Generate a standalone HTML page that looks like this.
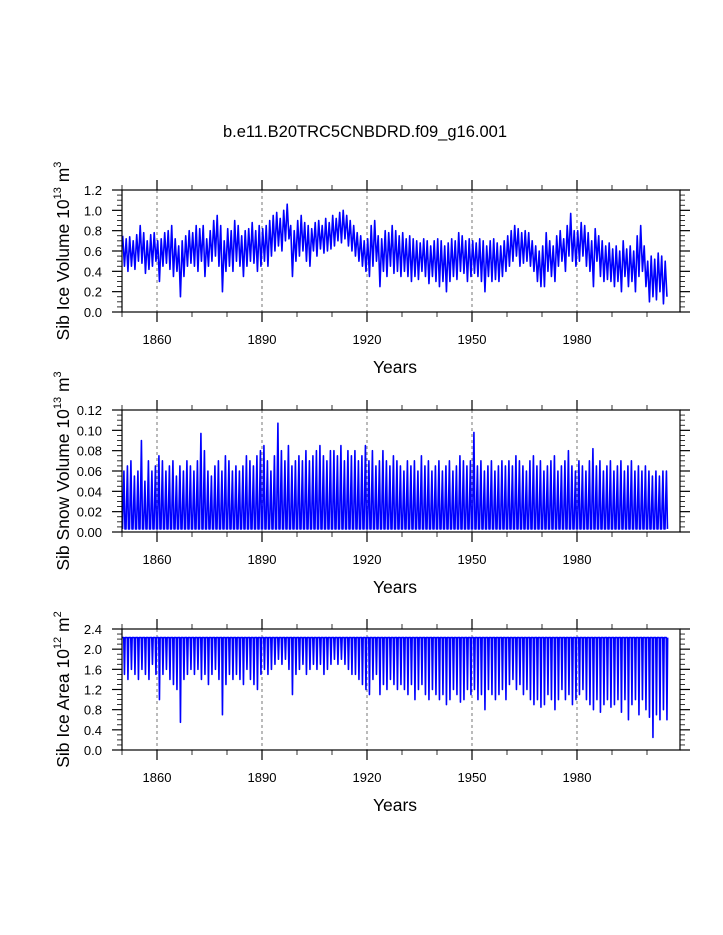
<!DOCTYPE html>
<html><head><meta charset="utf-8"><style>
html,body{margin:0;padding:0;background:#fff;}
svg{display:block;font-family:"Liberation Sans",Arial,sans-serif;}
</style></head><body>
<svg id="c" width="723" height="935" viewBox="0 0 723 935">
<text x="365" y="137" text-anchor="middle" font-size="16.5">b.e11.B20TRC5CNBDRD.f09_g16.001</text>
</svg>
<script>
const iceMax = [.75,.72,.74,.70,.76,.85,.78,.70,.76,.78, .70,.72,.78,.80,.85,.72,.65,.70,.75,.80, .78,.85,.82,.85,.72,.80,.90,.95,.85,.70, .82,.80,.90,.85,.75,.80,.82,.88,.80,.85, .82,.85,.90,.95,.98,.92,1.0,1.06,.85,.80, .90,.95,.88,.85,.82,.88,.90,.85,.92,.88, .95,.92,.98,1.0,.95,.90,.85,.78,.75,.70, .72,.85,.90,.75,.72,.80,.78,.85,.80,.75, .78,.72,.75,.72,.70,.68,.72,.70,.65,.70, .72,.70,.65,.68,.72,.70,.78,.75,.70,.72, .70,.68,.72,.70,.65,.70,.72,.68,.65,.70, .75,.80,.85,.82,.78,.80,.78,.70,.65,.60, .65,.78,.70,.65,.75,.80,.72,.85,.97,.80, .80,.88,.85,.78,.70,.82,.75,.70,.65,.68, .62,.65,.60,.70,.62,.65,.60,.75,.85,.65, .50,.55,.52,.58,.55,.50];
const iceMin = [.45,.40,.45,.42,.50,.48,.38,.42,.45,.50, .30,.45,.48,.42,.35,.40,.15,.35,.45,.48, .45,.40,.50,.35,.45,.50,.55,.45,.20,.40, .45,.40,.50,.45,.35,.45,.50,.48,.40,.45, .50,.45,.55,.60,.65,.60,.70,.72,.35,.50, .55,.60,.50,.45,.60,.55,.62,.58,.60,.62, .65,.70,.68,.72,.65,.60,.55,.50,.45,.40, .35,.45,.50,.25,.40,.35,.45,.38,.40,.35, .40,.35,.30,.35,.32,.40,.35,.28,.35,.30, .25,.30,.20,.30,.35,.32,.40,.38,.30,.35, .38,.35,.30,.20,.35,.30,.32,.30,.35,.40, .45,.50,.55,.45,.48,.50,.45,.40,.30,.25, .25,.40,.35,.30,.45,.50,.40,.55,.50,.45, .50,.55,.45,.40,.25,.50,.35,.30,.32,.30, .25,.30,.20,.35,.25,.30,.20,.35,.40,.25, .10,.15,.12,.20,.08,.15];
const snowMax = [.06,.065,.07,.055,.06,.09,.05,.07,.06,.065, .075,.07,.06,.065,.07,.055,.065,.06,.07,.065, .06,.07,.097,.08,.06,.055,.065,.07,.06,.075, .07,.06,.065,.06,.065,.075,.07,.065,.075,.08, .085,.07,.06,.075,.107,.08,.07,.085,.065,.07, .075,.07,.08,.07,.075,.08,.085,.075,.07,.08, .08,.075,.085,.07,.08,.075,.08,.07,.075,.085, .07,.08,.065,.07,.08,.07,.065,.075,.07,.065, .06,.07,.065,.07,.06,.075,.065,.07,.06,.065, .07,.06,.065,.07,.06,.065,.075,.07,.065,.07, .098,.065,.07,.06,.065,.07,.06,.065,.07,.065, .07,.065,.075,.07,.065,.06,.07,.075,.065,.07, .06,.065,.07,.075,.06,.065,.07,.08,.065,.06, .07,.065,.06,.07,.082,.065,.07,.06,.065,.07, .06,.065,.07,.06,.065,.07,.06,.065,.06,.065, .06,.055,.06,.055,.06,.06];
const areaMin = [1.5,1.4,1.6,1.5,1.4,1.6,1.5,1.4,1.7,1.5, 1.0,1.5,1.6,1.4,1.3,1.2,0.55,1.4,1.5,1.6, 1.5,1.6,1.4,1.5,1.3,1.5,1.6,1.4,0.7,1.3, 1.5,1.4,1.5,1.4,1.3,1.6,1.4,1.3,1.2,1.5, 1.6,1.5,1.6,1.7,1.8,1.7,1.8,1.6,1.1,1.5, 1.6,1.7,1.5,1.6,1.7,1.6,1.7,1.5,1.6,1.7, 1.8,1.7,1.8,1.7,1.6,1.5,1.5,1.4,1.3,1.2, 1.1,1.4,1.5,1.1,1.3,1.2,1.4,1.3,1.2,1.3, 1.2,1.1,1.3,1.0,1.2,1.3,1.1,1.0,1.2,1.1, 1.0,1.1,0.9,1.0,1.2,1.1,0.95,1.0,1.2,1.1, 1.2,1.0,1.1,0.8,1.2,1.1,1.0,1.1,1.2,1.0, 1.3,1.4,1.2,1.3,1.1,1.2,1.0,0.9,1.0,0.85, 0.9,1.1,1.0,0.8,1.0,1.2,1.0,1.1,0.9,1.0, 1.1,1.2,1.0,0.9,0.8,1.0,0.75,0.9,1.0,0.85, 0.9,1.0,0.75,1.0,0.6,0.9,1.0,0.7,1.0,0.8, 0.65,0.25,0.7,0.6,0.8,0.6];
const areaMax = 2.23;
const snowMin = 0.003;
const xTickYears = [1860,1890,1920,1950,1980];

const NS='http://www.w3.org/2000/svg';
const svg=document.getElementById('c');
function el(tag,attrs,parent){const e=document.createElementNS(NS,tag);for(const k in attrs)e.setAttribute(k,attrs[k]);(parent||svg).appendChild(e);return e;}
const X0=122,X1=680,YR0=1850,YR1=2009.43;
function xs(yr){return X0+(yr-YR0)/(YR1-YR0)*(X1-X0);}
const panels=[
 {top:190,bot:312,max:1.2,major:0.2,minor:0.05,dec:1,lab:'Sib Ice Volume 10',sup1:'13',unit:' m',sup2:'3',name:'ice-volume'},
 {top:410,bot:532,max:0.12,major:0.02,minor:0.005,dec:2,lab:'Sib Snow Volume 10',sup1:'13',unit:' m',sup2:'3',name:'snow-volume'},
 {top:629,bot:750,max:2.4,major:0.4,minor:0.1,dec:1,lab:'Sib Ice Area 10',sup1:'12',unit:' m',sup2:'2',name:'ice-area'}
];
panels.forEach((p,pi)=>{
 const g=el('g',{});
 
 
 const ys=v=>p.bot-v/p.max*(p.bot-p.top);
 xTickYears.forEach(y=>{const l=el('line',{x1:xs(y),x2:xs(y),y1:p.top,y2:p.bot,stroke:'#555','stroke-width':0.8,'stroke-dasharray':'3,3'},g);
  
  });
 let d='';
 const n=(pi===0?iceMax:pi===1?snowMax:areaMin).length;
 for(let i=0;i<n;i++){
  const yr=YR0+i;let pts;
  if(pi===0)pts=[[yr+0.2,iceMax[i]],[yr+0.7,iceMin[i]]];
  else if(pi===1)pts=[[yr+0.15,snowMin],[yr+0.55,snowMax[i]],[yr+0.85,snowMin]];
  else pts=[[yr+0.1,areaMax],[yr+0.5,areaMax],[yr+0.7,areaMin[i]],[yr+0.9,areaMax]];
  pts.forEach(q=>{d+=(d?'L':'M')+xs(q[0]).toFixed(2)+','+ys(q[1]).toFixed(2);});
 }
 const path=el('path',{d:d,fill:'none',stroke:'#0000ff','stroke-width':1.6,'stroke-linejoin':'round'},g);
 
 
 const box=el('rect',{x:X0,y:p.top,width:X1-X0,height:p.bot-p.top,fill:'none',stroke:'#000','stroke-width':1.2},g);
 
 
 for(let yr=1850;yr<=2000;yr+=10){
  const maj=xTickYears.includes(yr);const L=maj?10:5;const x=xs(yr);
  el('line',{x1:x,x2:x,y1:p.top,y2:p.top-L,stroke:'#000','stroke-width':maj?1.2:0.8},g);
  el('line',{x1:x,x2:x,y1:p.bot,y2:p.bot+L,stroke:'#000','stroke-width':maj?1.2:0.8},g);
  if(maj){const t=el('text',{x:x,y:p.bot+32,'text-anchor':'middle','font-size':13},g);t.textContent=yr;
   
   }
 }
 const nm=Math.round(p.max/p.minor);
 for(let k=0;k<=nm;k++){
  const v=k*p.minor;const maj=Math.abs(v/p.major-Math.round(v/p.major))<1e-6;const L=maj?10:5;const y=ys(v);
  el('line',{x1:X0,x2:X0-L,y1:y,y2:y,stroke:'#000','stroke-width':maj?1.2:0.8},g);
  el('line',{x1:X1,x2:X1+L,y1:y,y2:y,stroke:'#000','stroke-width':maj?1.2:0.8},g);
  if(maj){const t=el('text',{x:X0-20,y:y+5,'text-anchor':'end','font-size':13},g);t.textContent=v.toFixed(p.dec);
   
   }
 }
 const xt=el('text',{x:395,y:p.bot+61,'text-anchor':'middle','font-size':17.5},g);xt.textContent='Years';
 
 
 const cy=(p.top+p.bot)/2;
 const yt=el('text',{x:0,y:0,'text-anchor':'middle','font-size':17.5,transform:'translate(69,'+cy+') rotate(-90)'},g);
 
 
 const a=el('tspan',{},yt);a.textContent=p.lab;
 const b=el('tspan',{'font-size':11,dy:-8},yt);b.textContent=p.sup1;
 const c=el('tspan',{dy:8},yt);c.textContent=p.unit;
 const e=el('tspan',{'font-size':11,dy:-8},yt);e.textContent=p.sup2;
});
</script>
</body></html>
